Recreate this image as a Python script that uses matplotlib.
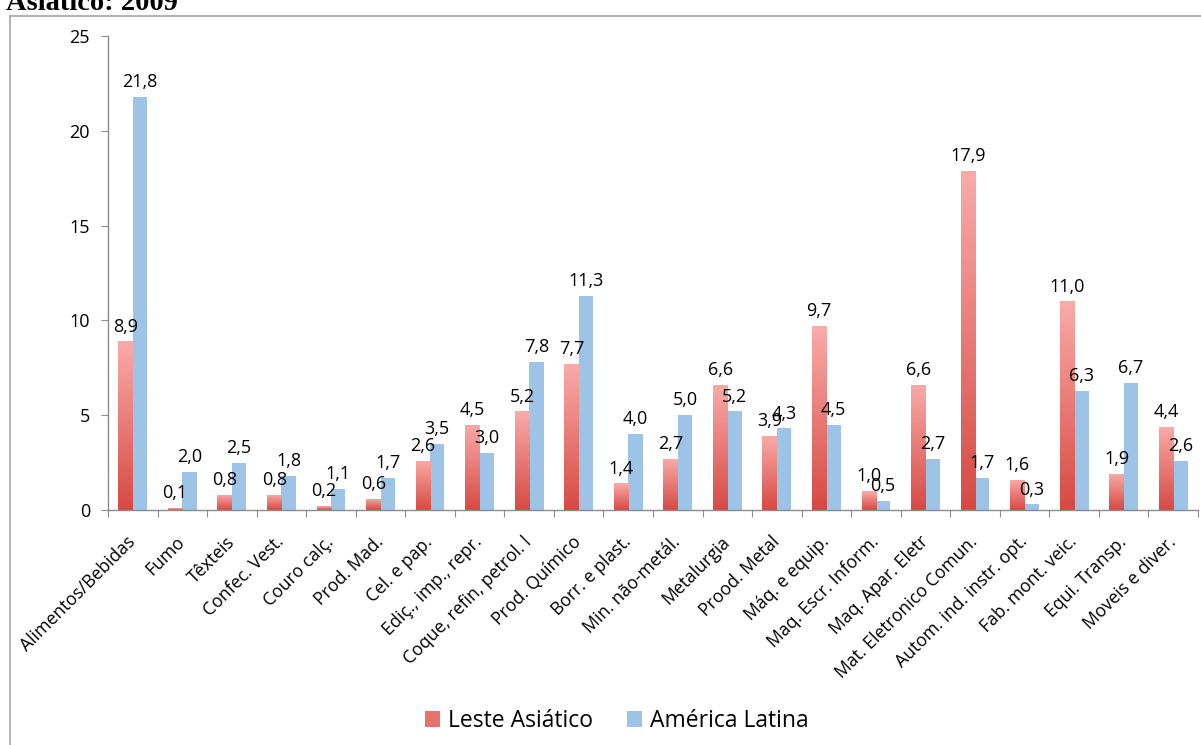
import numpy as np
import matplotlib
matplotlib.use("Agg")
import matplotlib.pyplot as plt
from matplotlib.colors import LinearSegmentedColormap
from matplotlib.lines import Line2D
from matplotlib.patches import Patch

plt.rcParams['font.family'] = ['Open Sans', 'DejaVu Sans']

# --- dados ---
setores = ["Alimentos/Bebidas", "Fumo", "Têxteis", "Confec. Vest.", "Couro calç.",
           "Prod. Mad.", "Cel. e pap.", "Ediç., imp., repr.", "Coque, refin, petrol. l",
           "Prod. Químico", "Borr. e plast.", "Min. não-metál.", "Metalurgia",
           "Prood. Metal", "Máq. e equip.", "Maq. Escr. Inform.", "Maq. Apar. Eletr",
           "Mat. Eletronico Comun.", "Autom. ind. instr. opt.", "Fab. mont. veic.",
           "Equi. Transp.", "Moveis e diver."]
leste_asiatico = [8.9, 0.1, 0.8, 0.8, 0.2, 0.6, 2.6, 4.5, 5.2, 7.7, 1.4,
                  2.7, 6.6, 3.9, 9.7, 1.0, 6.6, 17.9, 1.6, 11.0, 1.9, 4.4]
america_latina = [21.8, 2.0, 2.5, 1.8, 1.1, 1.7, 3.5, 3.0, 7.8, 11.3, 4.0,
                  5.0, 5.2, 4.3, 4.5, 0.5, 2.7, 1.7, 0.3, 6.3, 6.7, 2.6]
yticks = [0, 5, 10, 15, 20, 25]

cor_azul = "#9DC3E6"
grad_vermelho = LinearSegmentedColormap.from_list("verm", ["#D64A43", "#FAABA9"])
cinza = "#8C8C8C"

W, H = 1201, 745
fig = plt.figure(figsize=(W / 100, H / 100), dpi=100)
ax = fig.add_axes([108 / W, 1 - 510 / H, (1198 - 108) / W, (510 - 36) / H])

x = np.arange(len(setores))
larg = 0.29

barras_v = ax.bar(x - larg / 2, leste_asiatico, larg, color="none", linewidth=0, zorder=2)
barras_a = ax.bar(x + larg / 2, america_latina, larg, color=cor_azul, linewidth=0, zorder=2)

# degradê vertical nas barras vermelhas
grad = np.linspace(0, 1, 256).reshape(-1, 1)
for b in barras_v:
    x0, w, h = b.get_x(), b.get_width(), b.get_height()
    im = ax.imshow(grad, cmap=grad_vermelho, origin="lower", aspect="auto",
                   extent=[x0, x0 + w, 0, h], zorder=2)
    im.set_clip_path(b)

ax.set_xlim(-0.5, len(setores) - 0.5)
ax.set_ylim(0, 25)

# rótulos de valor
def rotular(barras, valores):
    for b, v in zip(barras, valores):
        ax.annotate(f"{v:.1f}".replace(".", ","), (b.get_x() + b.get_width() / 2, v),
                    xytext=(0, 7), textcoords="offset points",
                    ha="center", va="baseline", fontsize=13, zorder=4)

rotular(barras_v, leste_asiatico)
rotular(barras_a, america_latina)

# eixos
for lado in ["top", "right"]:
    ax.spines[lado].set_visible(False)
for lado in ["left", "bottom"]:
    ax.spines[lado].set_color(cinza)
    ax.spines[lado].set_linewidth(1.0)

ax.set_yticks(yticks)
ax.set_yticklabels([str(t) for t in yticks], fontsize=13)
ax.tick_params(axis="y", length=5, color=cinza, pad=8)

ax.set_xticks(np.arange(len(setores) + 1) - 0.5)
ax.set_xticklabels([])
ax.tick_params(axis="x", which="major", length=5, color=cinza)
ax.set_xticks(x, minor=True)
ax.set_xticklabels(setores, minor=True, rotation=45, ha="right", va="center",
                   rotation_mode="anchor", fontsize=12.7)
ax.tick_params(axis="x", which="minor", length=0, pad=21)

# legenda
handles = [Patch(facecolor="#E8736D", edgecolor="none"),
           Patch(facecolor=cor_azul, edgecolor="none")]
fig.legend(handles, ["Leste Asiático", "América Latina"], loc="center",
           bbox_to_anchor=(617 / W, 1 - 721 / H), ncol=2, frameon=False,
           fontsize=16.5, handlelength=0.65, handleheight=0.65, handletextpad=0.35,
           columnspacing=1.5)

# moldura e título cortado
fig.add_artist(Line2D([10 / W, 10 / W], [0, 1 - 16 / H], color="#A6A6A6", lw=1.2))
fig.add_artist(Line2D([10 / W, 1], [1 - 16 / H, 1 - 16 / H], color="#A6A6A6", lw=1.2))
fig.text(6 / W, 1 - 10 / H, "Asiático: 2009", fontsize=20.5, fontweight="bold",
         family="Liberation Serif", ha="left", va="baseline")

fig.savefig("out.png", dpi=100)
